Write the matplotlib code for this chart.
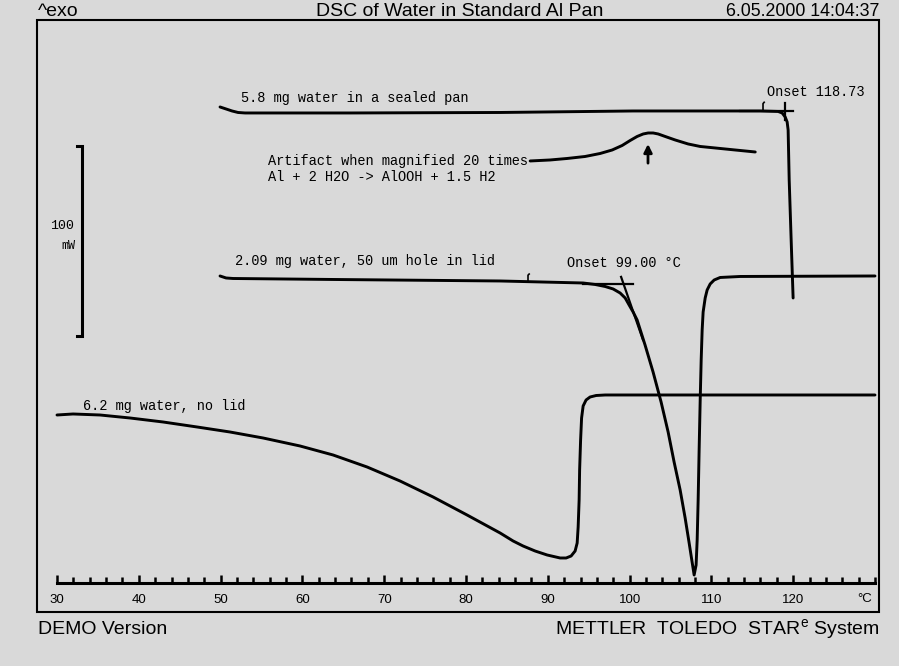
import matplotlib
import matplotlib.pyplot as plt
from matplotlib.patches import Rectangle
from matplotlib.ticker import MultipleLocator

matplotlib.use("Agg")

BG = "#d9d9d9"
MONO = ["Liberation Mono", "DejaVu Sans Mono"]
SANS = ["Liberation Sans", "DejaVu Sans"]
NARROW = ["Liberation Sans Narrow", "Liberation Sans", "DejaVu Sans"]

# 6.2 mg water, no lid  (temperature in °C, heat flow in mW, arbitrary offset)
open_temp = [30.00, 31.96, 35.26, 38.93, 42.96, 47.12, 51.15, 55.19, 59.71, 63.75,
             67.91, 71.94, 75.98, 80.13, 84.17, 85.76, 86.98, 88.45, 89.92, 91.51,
             92.24, 92.85, 93.34, 93.59, 93.71, 93.83, 93.89, 94.01, 94.13, 94.32,
             94.68, 95.17, 95.91, 97.01, 130.0]
open_flow = [88.42, 88.95, 88.42, 86.84, 84.74, 82.11, 79.47, 76.32, 72.11, 67.37,
             61.05, 53.68, 45.26, 35.79, 26.32, 22.11, 19.47, 16.84, 14.74, 13.16,
             13.16, 14.21, 16.84, 21.05, 29.47, 43.68, 59.47, 75.26, 86.84, 93.16,
             96.32, 97.89, 98.68, 98.95, 98.95]

# 2.09 mg water, 50 um hole in lid
hole_temp = [49.93, 50.67, 51.52, 63.75, 84.17, 94.32, 95.79, 97.01, 97.99, 98.84,
             99.46, 99.94, 100.43, 100.92, 101.89, 102.87, 103.85, 104.71, 105.44,
             106.18, 106.79, 107.28, 107.64, 107.89, 108.13, 108.26, 108.38, 108.50,
             108.63, 108.75, 108.87, 108.99, 109.24, 109.48, 109.85, 110.34, 111.07,
             113.52, 130.0]
hole_flow = [161.58, 160.53, 160.26, 159.74, 158.95, 157.89, 157.11, 156.05, 154.74,
             152.63, 150.00, 146.32, 142.63, 138.42, 125.26, 111.05, 95.26, 79.47,
             63.68, 48.95, 34.21, 21.05, 11.05, 4.21, 9.47, 22.63, 43.68, 70.00,
             96.32, 117.37, 133.16, 142.63, 150.00, 154.21, 157.37, 159.47, 160.79,
             161.32, 161.58]

# 5.8 mg water in a sealed pan
sealed_temp = [49.93, 50.67, 51.40, 52.13, 52.99, 65.83, 84.17, 100.43, 115.96,
               118.16, 118.65, 119.02, 119.26, 119.38, 119.51, 119.75, 119.99]
sealed_flow = [250.53, 249.47, 248.42, 247.63, 247.37, 247.37, 247.63, 248.42, 248.42,
               248.16, 247.37, 245.26, 242.63, 238.42, 212.11, 180.53, 150.0]

# artifact, magnified 20 times
artifact_temp = [87.84, 90.28, 92.36, 94.56, 96.40, 97.87, 99.09, 100.07, 100.92,
                 101.66, 102.27, 102.88, 103.49, 104.35, 105.57, 107.16, 108.63,
                 110.46, 112.91, 115.36]
artifact_flow = [222.11, 222.63, 223.42, 224.47, 226.05, 227.89, 230.26, 232.89,
                 235.00, 236.32, 236.84, 236.84, 236.32, 235.00, 233.16, 231.05,
                 229.74, 228.95, 227.89, 226.84]

# onset constructions
sealed_base_temp = [113.5, 120.0]
sealed_base_flow = [248.4, 248.4]
sealed_onset = 119.0
hole_base_temp = [94.3, 100.42]
hole_base_flow = [157.6, 157.6]
hole_tangent_temp = [98.96, 101.64]
hole_tangent_flow = [161.1, 127.9]

major_ticks = [30, 40, 50, 60, 70, 80, 90, 100, 110, 120]
scale_mw = 100

fig = plt.figure(figsize=(8.99, 6.66), dpi=100, facecolor=BG)

W, H = 899, 666
ax = fig.add_axes([57 / W, (H - 583) / H, 818 / W, 563 / H])
ax.set_facecolor("none")
ax.set_xlim(30, 130)
ax.set_ylim(0, 296.3)

line_kw = dict(color="black", lw=2.1, clip_on=False, solid_joinstyle="round",
               solid_capstyle="round")
ax.plot(open_temp, open_flow, **line_kw)
ax.plot(hole_temp, hole_flow, **line_kw)
ax.plot(sealed_temp, sealed_flow, **line_kw)
ax.plot(artifact_temp, artifact_flow, **line_kw)

thin_kw = dict(color="black", lw=1.6, clip_on=False)
ax.plot(sealed_base_temp, sealed_base_flow, **thin_kw)
ax.plot([sealed_onset, sealed_onset], [252.6, 243.7], **thin_kw)
ax.plot([116.31, 116.31, 116.45], [248.4, 252.3, 253.0], color="black", lw=1.2)
ax.plot(hole_base_temp, hole_base_flow, **thin_kw)
ax.plot(hole_tangent_temp, hole_tangent_flow, **thin_kw)
ax.plot([87.58, 87.58, 87.72], [158.9, 162.0, 162.6], color="black", lw=1.2)

# arrow pointing at the artifact peak
ax.annotate("", xy=(102.25, 232.5), xytext=(102.25, 219.5),
            arrowprops=dict(arrowstyle="-|>", color="black", lw=2.0,
                            mutation_scale=12))

# 100 mW scale bar
bar_x = 33.06
ax.plot([32.45, bar_x, bar_x, 32.45], [130, 130, 130 + scale_mw, 130 + scale_mw],
        color="black", lw=2.2, clip_on=False, solid_joinstyle="miter")
ax.text(32.1, 187.9, "100", family=MONO, fontsize=9.5, ha="right", va="center")
ax.text(32.2, 177.6, "mW", family=MONO, fontsize=8.5, ha="right", va="center")

txt_kw = dict(family=MONO, fontsize=9.8, va="center", clip_on=False)
ax.text(52.49, 255.3, "5.8 mg water in a sealed pan", **txt_kw)
ax.text(116.80, 258.4, "Onset 118.73", **txt_kw)
ax.text(55.79, 222.1, "Artifact when magnified 20 times", **txt_kw)
ax.text(55.79, 213.7, "Al + 2 H2O -> AlOOH + 1.5 H2", **txt_kw)
ax.text(51.76, 169.5, "2.09 mg water, 50 um hole in lid", **txt_kw)
ax.text(92.35, 168.4, "Onset 99.00 °C", **txt_kw)
ax.text(33.18, 93.2, "6.2 mg water, no lid", **txt_kw)

# temperature axis
for side in ["top", "left", "right"]:
    ax.spines[side].set_visible(False)
ax.spines["bottom"].set_linewidth(2.2)
ax.set_yticks([])
ax.set_xticks(major_ticks)
ax.xaxis.set_minor_locator(MultipleLocator(2))
ax.tick_params(axis="x", which="major", direction="in", length=6, width=1.8,
               pad=8, labelsize=9.5)
ax.tick_params(axis="x", which="minor", direction="in", length=4, width=1.8)
for label in ax.get_xticklabels():
    label.set_family(NARROW)
ax.text(129.6, -8.6, "°C", family=NARROW, fontsize=9.5, ha="right", va="center",
        clip_on=False)

# frame
fig.add_artist(Rectangle((37 / W, (H - 612) / H), 842 / W, 592 / H, fill=False,
                         lw=1.5, edgecolor="black", transform=fig.transFigure))

# header and footer
head_kw = dict(family=SANS, fontsize=14, va="center")
fig.text(38 / W, 1 - 11 / H, "^exo", ha="left", **head_kw)
fig.text(460 / W, 1 - 11 / H, "DSC of Water in Standard Al Pan", ha="center", **head_kw)
fig.text(879 / W, 1 - 11 / H, "6.05.2000 14:04:37", ha="right",
         **{**head_kw, "fontsize": 12.8})
fig.text(38 / W, 1 - 630 / H, "DEMO Version", ha="left", **head_kw)
fig.text(879 / W, 1 - 630 / H, r"METTLER  TOLEDO  STAR$^\mathregular{e}$ System",
         ha="right", **head_kw)

fig.savefig("out.png", dpi=100, facecolor=BG)
